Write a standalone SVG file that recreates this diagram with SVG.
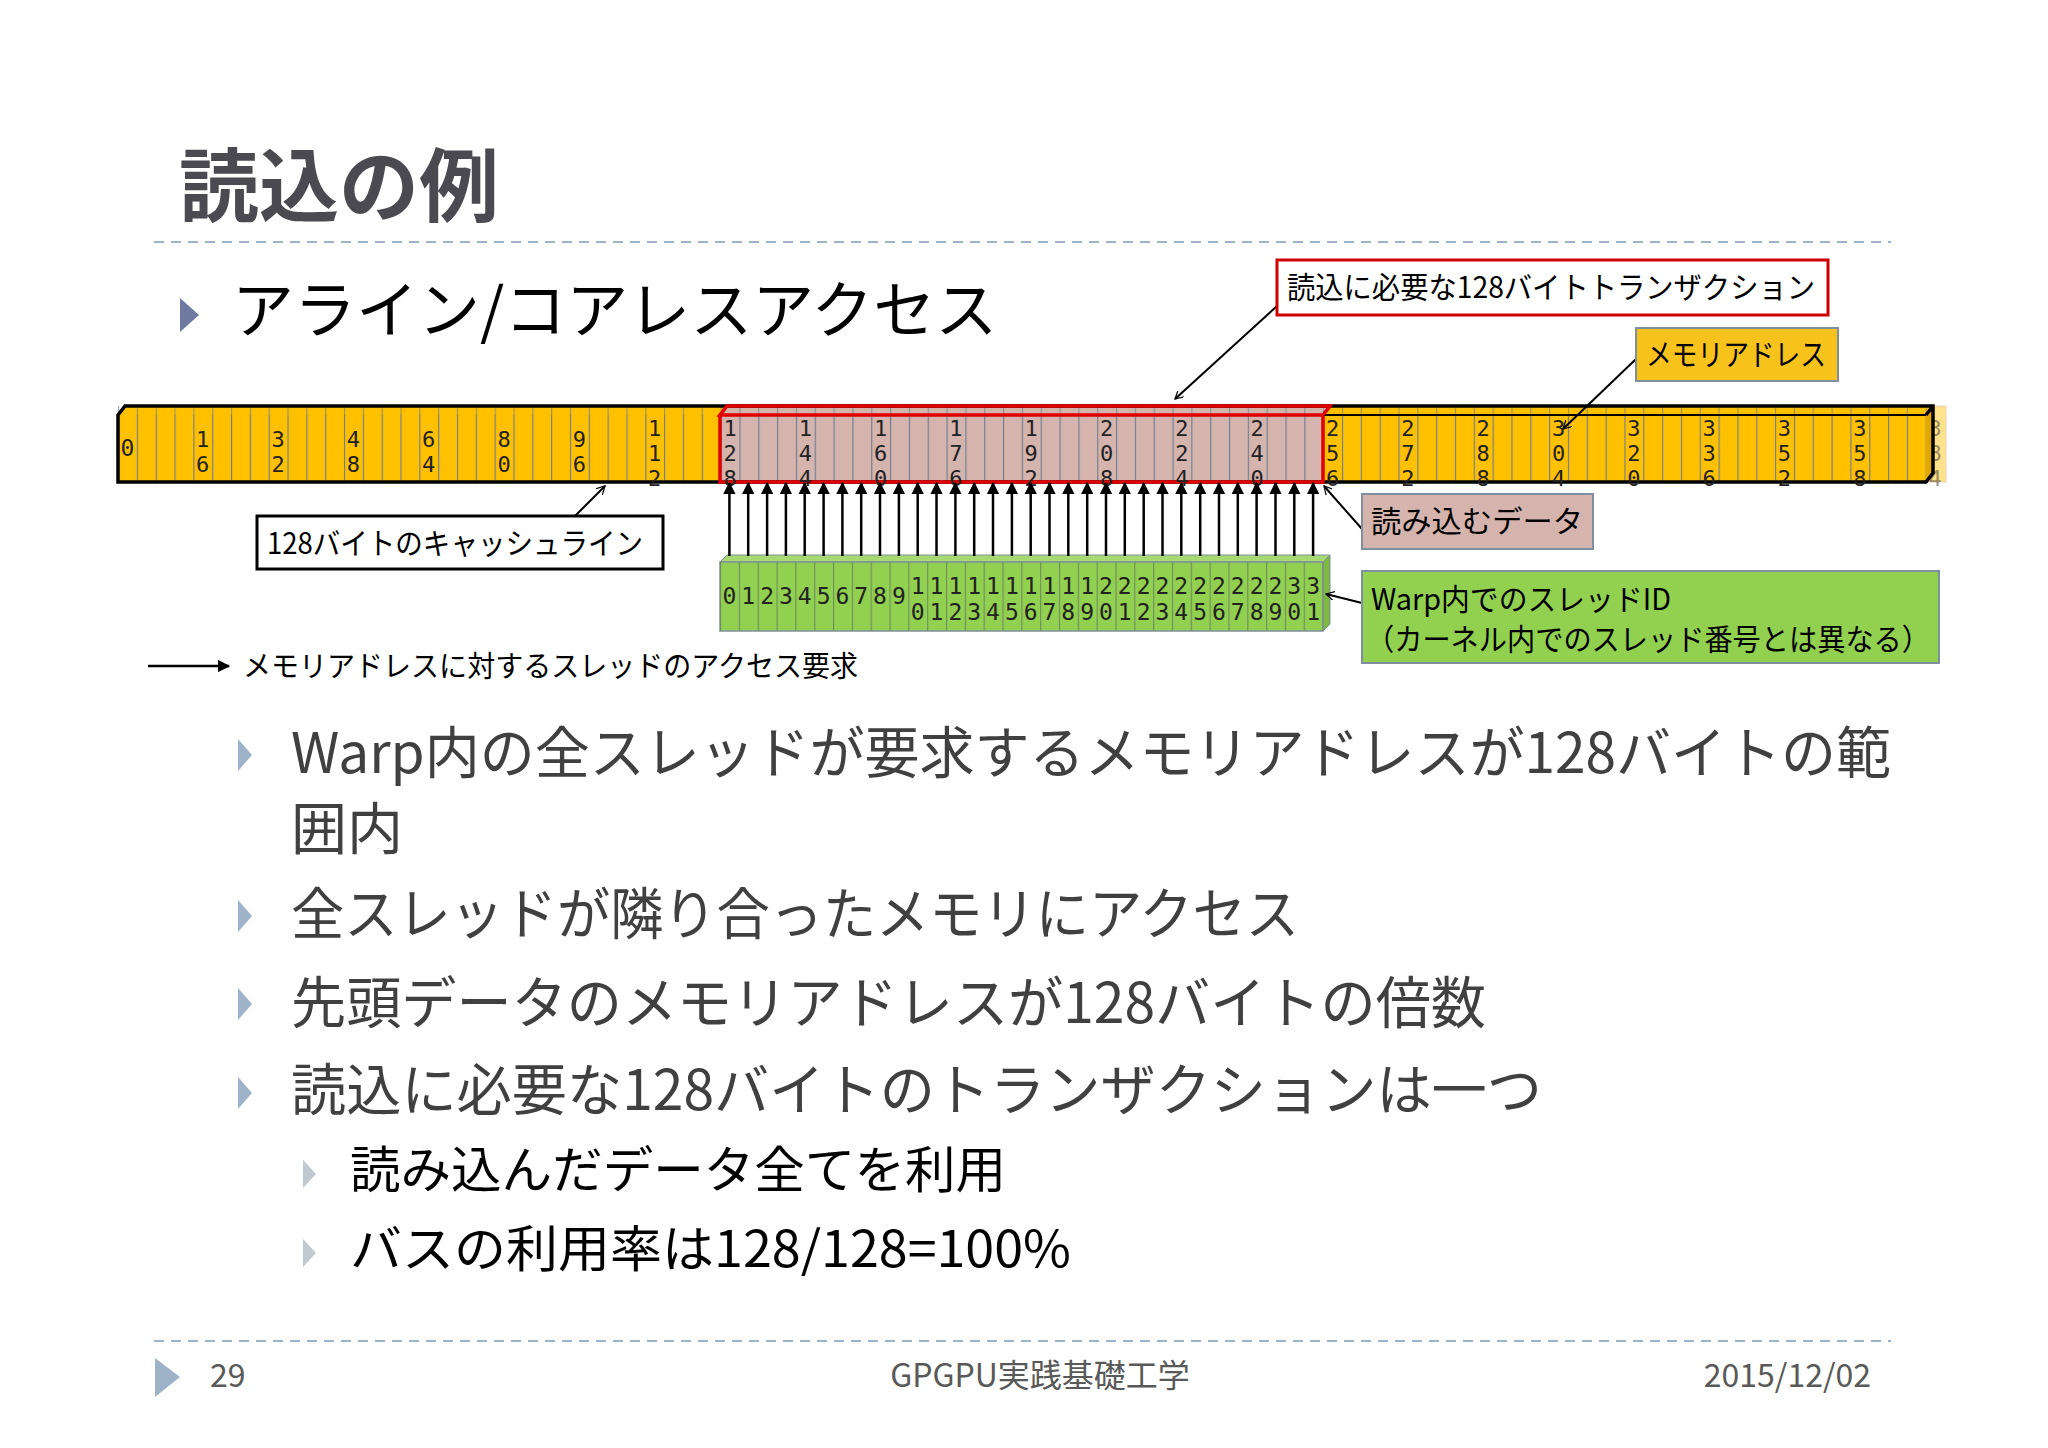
<svg xmlns="http://www.w3.org/2000/svg" width="2048" height="1448" viewBox="0 0 2048 1448">
<defs>
<style>
.jp{font-family:"Noto Sans CJK JP","Noto Sans",sans-serif}
.mono{font-family:"DejaVu Sans Mono","Liberation Mono",monospace;font-size:23px;fill:#222;text-anchor:middle}
.v{font-family:"DejaVu Sans Mono","Liberation Mono",monospace;font-size:22px;fill:#222;writing-mode:vertical-rl;text-orientation:upright}
.vg{font-family:"DejaVu Sans Mono","Liberation Mono",monospace;font-size:23px;fill:#222;writing-mode:vertical-rl;text-orientation:upright}
.lbl{font-family:"Noto Sans CJK JP",sans-serif;font-size:30px;fill:#000}
.body{font-family:"Noto Sans CJK JP",sans-serif;font-size:56px;fill:#404040}
.sub{font-family:"Noto Sans CJK JP",sans-serif;font-size:50px;fill:#000}
.thin{stroke:#000;stroke-width:2;fill:none}
.up{stroke:#000;stroke-width:2.5;marker-end:url(#ah)}
.dash{stroke:#9fb3c8;stroke-width:2;stroke-dasharray:10 7}
</style>
<marker id="ah" viewBox="0 0 10 10" refX="9" refY="5" markerWidth="5" markerHeight="5" orient="auto"><path d="M0,0L10,5L0,10z" fill="#000"/></marker>
<marker id="oa" viewBox="0 0 12 12" refX="11" refY="6" markerWidth="9" markerHeight="9" orient="auto" markerUnits="userSpaceOnUse"><path d="M0,0L11,6L0,12" fill="none" stroke="#000" stroke-width="1.6"/></marker>
<pattern id="div" x="118" y="0" width="18.83" height="10" patternUnits="userSpaceOnUse"><line x1="0.5" y1="0" x2="0.5" y2="10" stroke="#6f7f8f" stroke-width="1.3"/></pattern>
<pattern id="gdiv" x="720" y="0" width="18.83" height="10" patternUnits="userSpaceOnUse"><line x1="0.5" y1="0" x2="0.5" y2="10" stroke="#6f8f5f" stroke-width="1.3"/></pattern>
</defs>
<rect width="2048" height="1448" fill="#fff"/>

<g id="title">
<text x="179" y="215" class="jp" font-size="80" font-weight="bold" fill="#4a4a50">読込の例</text>
<line x1="154" y1="242" x2="1891" y2="242" class="dash"/>
<path d="M180,298L199,315L180,332z" fill="#6f7aa0"/>
<text x="232" y="333" class="jp" font-size="62" fill="#000">アライン/コアレスアクセス</text>
</g>

<g id="memory-bar">
<rect x="1926" y="406" width="20" height="76" fill="#FFC000" opacity="0.45" stroke="#c8a060" stroke-width="1"/>
<text class="v" x="1935" y="416" opacity="0.45">384</text>
<polygon points="118,415 125,406 1933,406 1926,415" fill="#FFC000"/>
<polygon points="720,415 727,406 1330,406 1323,415" fill="#D6B4AE"/>
<rect x="118" y="406" width="1815" height="9" fill="url(#div)" opacity="0.7"/>
<polygon points="1926,415 1933,406 1933,473 1926,482" fill="#e0a800"/>
<rect x="118" y="415" width="1808" height="67" fill="#FFC000"/>
<rect x="720" y="415" width="603" height="67" fill="#D6B4AE"/>
<rect x="118" y="415" width="1808" height="67" fill="url(#div)"/>
<path d="M118,482V415L125,406H1933V473L1926,482H118z M1926,415L1933,406" fill="none" stroke="#000" stroke-width="3.5"/>
<path d="M720,415H1926" stroke="#000" stroke-width="2"/>
<path d="M720,415L727,406H1330L1323,415z M720,415V482H1323V415" fill="none" stroke="#e00000" stroke-width="3.5"/>
<text class="mono" x="127.4" y="456">0</text>
<text class="v" x="202.7" y="427">16</text>
<text class="v" x="278" y="427">32</text>
<text class="v" x="353.4" y="427">48</text>
<text class="v" x="428.7" y="427">64</text>
<text class="v" x="504" y="427">80</text>
<text class="v" x="579.3" y="427">96</text>
<text class="v" x="654.6" y="416">112</text>
<text class="v" x="730" y="416">128</text>
<text class="v" x="805.3" y="416">144</text>
<text class="v" x="880.6" y="416">160</text>
<text class="v" x="955.9" y="416">176</text>
<text class="v" x="1031.2" y="416">192</text>
<text class="v" x="1106.6" y="416">208</text>
<text class="v" x="1181.9" y="416">224</text>
<text class="v" x="1257.2" y="416">240</text>
<text class="v" x="1332.5" y="416">256</text>
<text class="v" x="1407.8" y="416">272</text>
<text class="v" x="1483.2" y="416">288</text>
<text class="v" x="1558.5" y="416">304</text>
<text class="v" x="1633.8" y="416">320</text>
<text class="v" x="1709.1" y="416">336</text>
<text class="v" x="1784.4" y="416">352</text>
<text class="v" x="1859.8" y="416">358</text>
</g>

<g id="threads">
<polygon points="720,562 727,555 1330,555 1323,562" fill="#A6DA70" stroke="#7f8f9f" stroke-width="1"/>
<polygon points="1323,562 1330,555 1330,624 1323,631" fill="#7fb840" stroke="#7f8f9f" stroke-width="1"/>
<rect x="720" y="562" width="603" height="69" fill="#92D050" stroke="#7f8f9f" stroke-width="1.5"/>
<rect x="720" y="562" width="603" height="69" fill="url(#gdiv)"/>
<text class="mono" x="729.4 748.2 767.1 785.9 804.7 823.6 842.4 861.2 880.0 898.9" y="604">0123456789</text>
<text class="vg" x="917.7" y="573">10</text>
<text class="vg" x="936.5" y="573">11</text>
<text class="vg" x="955.4" y="573">12</text>
<text class="vg" x="974.2" y="573">13</text>
<text class="vg" x="993.0" y="573">14</text>
<text class="vg" x="1011.9" y="573">15</text>
<text class="vg" x="1030.7" y="573">16</text>
<text class="vg" x="1049.5" y="573">17</text>
<text class="vg" x="1068.3" y="573">18</text>
<text class="vg" x="1087.2" y="573">19</text>
<text class="vg" x="1106.0" y="573">20</text>
<text class="vg" x="1124.8" y="573">21</text>
<text class="vg" x="1143.7" y="573">22</text>
<text class="vg" x="1162.5" y="573">23</text>
<text class="vg" x="1181.3" y="573">24</text>
<text class="vg" x="1200.2" y="573">25</text>
<text class="vg" x="1219.0" y="573">26</text>
<text class="vg" x="1237.8" y="573">27</text>
<text class="vg" x="1256.6" y="573">28</text>
<text class="vg" x="1275.5" y="573">29</text>
<text class="vg" x="1294.3" y="573">30</text>
<text class="vg" x="1313.1" y="573">31</text>
</g>

<g id="connectors">
<line x1="729.4" y1="556" x2="729.4" y2="483" class="up"/>
<line x1="748.2" y1="556" x2="748.2" y2="483" class="up"/>
<line x1="767.1" y1="556" x2="767.1" y2="483" class="up"/>
<line x1="785.9" y1="556" x2="785.9" y2="483" class="up"/>
<line x1="804.7" y1="556" x2="804.7" y2="483" class="up"/>
<line x1="823.6" y1="556" x2="823.6" y2="483" class="up"/>
<line x1="842.4" y1="556" x2="842.4" y2="483" class="up"/>
<line x1="861.2" y1="556" x2="861.2" y2="483" class="up"/>
<line x1="880.0" y1="556" x2="880.0" y2="483" class="up"/>
<line x1="898.9" y1="556" x2="898.9" y2="483" class="up"/>
<line x1="917.7" y1="556" x2="917.7" y2="483" class="up"/>
<line x1="936.5" y1="556" x2="936.5" y2="483" class="up"/>
<line x1="955.4" y1="556" x2="955.4" y2="483" class="up"/>
<line x1="974.2" y1="556" x2="974.2" y2="483" class="up"/>
<line x1="993.0" y1="556" x2="993.0" y2="483" class="up"/>
<line x1="1011.9" y1="556" x2="1011.9" y2="483" class="up"/>
<line x1="1030.7" y1="556" x2="1030.7" y2="483" class="up"/>
<line x1="1049.5" y1="556" x2="1049.5" y2="483" class="up"/>
<line x1="1068.3" y1="556" x2="1068.3" y2="483" class="up"/>
<line x1="1087.2" y1="556" x2="1087.2" y2="483" class="up"/>
<line x1="1106.0" y1="556" x2="1106.0" y2="483" class="up"/>
<line x1="1124.8" y1="556" x2="1124.8" y2="483" class="up"/>
<line x1="1143.7" y1="556" x2="1143.7" y2="483" class="up"/>
<line x1="1162.5" y1="556" x2="1162.5" y2="483" class="up"/>
<line x1="1181.3" y1="556" x2="1181.3" y2="483" class="up"/>
<line x1="1200.2" y1="556" x2="1200.2" y2="483" class="up"/>
<line x1="1219.0" y1="556" x2="1219.0" y2="483" class="up"/>
<line x1="1237.8" y1="556" x2="1237.8" y2="483" class="up"/>
<line x1="1256.6" y1="556" x2="1256.6" y2="483" class="up"/>
<line x1="1275.5" y1="556" x2="1275.5" y2="483" class="up"/>
<line x1="1294.3" y1="556" x2="1294.3" y2="483" class="up"/>
<line x1="1313.1" y1="556" x2="1313.1" y2="483" class="up"/>
<line x1="575" y1="516" x2="605" y2="486" class="thin" marker-end="url(#oa)"/>
<line x1="1277" y1="306" x2="1175" y2="399" class="thin" marker-end="url(#oa)"/>
<line x1="1636" y1="359" x2="1563" y2="429" class="thin" marker-end="url(#oa)"/>
<line x1="1362" y1="529" x2="1324" y2="486" class="thin" marker-end="url(#oa)"/>
<line x1="1362" y1="603" x2="1326" y2="594" class="thin" marker-end="url(#oa)"/>
<line x1="148" y1="666" x2="229" y2="666" stroke="#000" stroke-width="2.5" marker-end="url(#ah)"/>
</g>

<g id="callout-cacheline">
<rect x="257" y="516" width="406" height="53" fill="#fff" stroke="#000" stroke-width="3"/>
<text x="267" y="554" class="lbl" textLength="376" lengthAdjust="spacingAndGlyphs">128バイトのキャッシュライン</text>
</g>
<g id="callout-transaction">
<rect x="1277" y="260" width="551" height="55" fill="#fff" stroke="#d00000" stroke-width="3"/>
<text x="1287" y="298" class="lbl" textLength="528" lengthAdjust="spacingAndGlyphs">読込に必要な128バイトトランザクション</text>
</g>
<g id="callout-address">
<rect x="1636" y="328" width="202" height="53" fill="#F8C21C" stroke="#7f8f9f" stroke-width="2"/>
<text x="1646" y="365" class="lbl" textLength="180" lengthAdjust="spacingAndGlyphs">メモリアドレス</text>
</g>
<g id="callout-data">
<rect x="1362" y="494" width="231" height="55" fill="#D6B4AE" stroke="#7f8f9f" stroke-width="2"/>
<text x="1371" y="532" class="lbl" textLength="212" lengthAdjust="spacingAndGlyphs">読み込むデータ</text>
</g>
<g id="callout-warp">
<rect x="1362" y="571" width="577" height="92" fill="#92D050" stroke="#7f8f9f" stroke-width="2"/>
<text x="1371" y="610" class="lbl" textLength="300" lengthAdjust="spacingAndGlyphs">Warp内でのスレッドID</text>
<text x="1366" y="650" class="lbl" textLength="564" lengthAdjust="spacingAndGlyphs">（カーネル内でのスレッド番号とは異なる）</text>
</g>
<g id="legend">
<text x="243" y="677" class="jp" font-size="29" fill="#000" textLength="615" lengthAdjust="spacingAndGlyphs">メモリアドレスに対するスレッドのアクセス要求</text>
</g>

<g id="bullets">
<g fill="#9fb3c8">
<path d="M238,739L252,755L238,771z"/>
<path d="M238,900L252,916L238,932z"/>
<path d="M238,988L252,1004L238,1020z"/>
<path d="M238,1077L252,1093L238,1109z"/>
<path d="M303,1160L316,1174L303,1188z" fill="#c0c8d0"/>
<path d="M303,1239L316,1253L303,1267z" fill="#c0c8d0"/>
</g>
<text x="291" y="773" class="body" textLength="1600" lengthAdjust="spacingAndGlyphs">Warp内の全スレッドが要求するメモリアドレスが128バイトの範</text>
<text x="291" y="849" class="body">囲内</text>
<text x="291" y="934" class="body" textLength="1008" lengthAdjust="spacingAndGlyphs">全スレッドが隣り合ったメモリにアクセス</text>
<text x="291" y="1023" class="body" textLength="1195" lengthAdjust="spacingAndGlyphs">先頭データのメモリアドレスが128バイトの倍数</text>
<text x="291" y="1110" class="body" textLength="1251" lengthAdjust="spacingAndGlyphs">読込に必要な128バイトのトランザクションは一つ</text>
<text x="350" y="1188" class="sub" textLength="656" lengthAdjust="spacingAndGlyphs">読み込んだデータ全てを利用</text>
<text x="350" y="1267" class="sub" textLength="721" lengthAdjust="spacingAndGlyphs">バスの利用率は128/128=100%</text>
</g>

<g id="footer">
<line x1="154" y1="1341" x2="1891" y2="1341" class="dash"/>
<path d="M155,1358L180,1377L155,1397z" fill="#9fb3c8"/>
<text x="210" y="1387" class="jp" font-size="32" fill="#595959">29</text>
<text x="1040" y="1387" class="jp" font-size="32" fill="#595959" text-anchor="middle">GPGPU実践基礎工学</text>
<text x="1871" y="1387" class="jp" font-size="32" fill="#595959" text-anchor="end">2015/12/02</text>
</g>
</svg>
